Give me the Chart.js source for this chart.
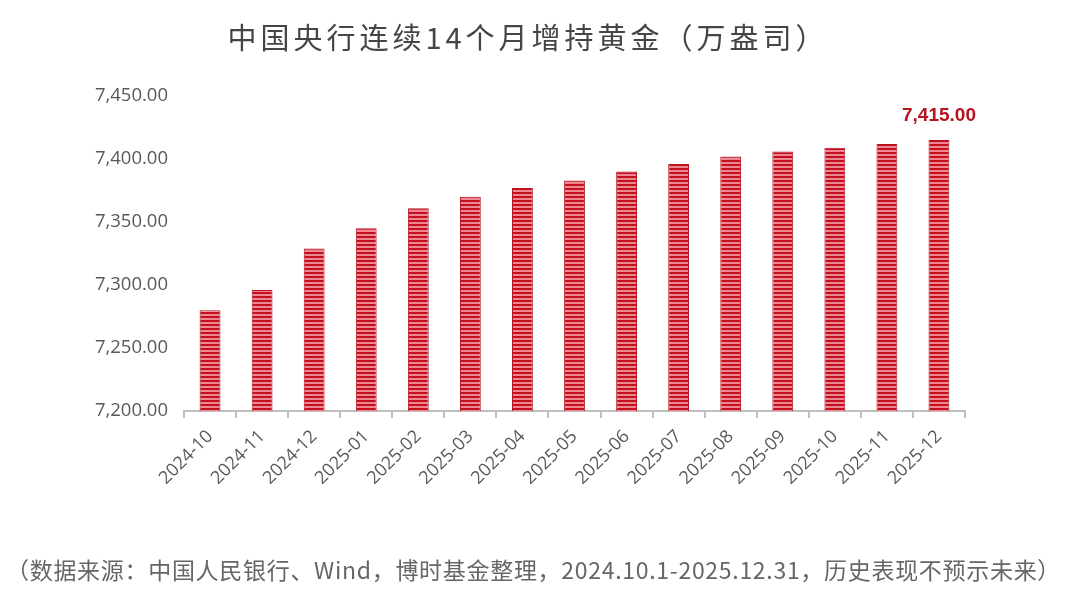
<!DOCTYPE html>
<html>
<head>
<meta charset="utf-8">
<script src="https://cdn.jsdelivr.net/npm/chart.js@4"></script>
<style>
  html, body { margin: 0; padding: 0; background: #fff; }
  #wrap { position: relative; width: 1080px; height: 600px; overflow: hidden; }
  #title {
    position: absolute; left: 8px; top: 16px; width: 1040px; text-align: center;
    font-family: "Noto Sans CJK SC", sans-serif; font-size: 29px; letter-spacing: 4px;
    color: #454545; line-height: 40px;
  }
  #note {
    position: absolute; left: 6px; top: 553px; white-space: nowrap;
    font-family: "Noto Sans CJK SC", sans-serif; font-size: 23px; letter-spacing: 0.7px; color: #666;
    line-height: 32px;
  }
  #chartBox { position: absolute; left: 0; top: 0; width: 1080px; height: 600px; }
</style>
</head>
<body>
<div id="wrap">
  <div id="chartBox"><canvas id="goldChart"></canvas></div>
  <div id="title">中国央行连续14个月增持黄金（万盎司）</div>
  <div id="note">（数据来源：中国人民银行、Wind，博时基金整理，2024.10.1-2025.12.31，历史表现不预示未来）</div>
</div>
<script>
// reserves in 10k oz, monthly
const months = ['2024-10', '2024-11', '2024-12', '2025-01', '2025-02', '2025-03', '2025-04', '2025-05',
  '2025-06', '2025-07', '2025-08', '2025-09', '2025-10', '2025-11', '2025-12'];
const goldReserves = [7280, 7296, 7329, 7345, 7361, 7370, 7377, 7383, 7390, 7396, 7402, 7406, 7409, 7412, 7415];
const yMin = 7200, yMax = 7450, yStep = 50;

const fmt = v => v.toLocaleString('en-US', { minimumFractionDigits: 2, maximumFractionDigits: 2 });

function stripePattern() {
  const c = document.createElement('canvas');
  c.width = 4; c.height = 4;
  const g = c.getContext('2d');
  g.fillStyle = '#ee8791';
  g.fillRect(0, 0, 4, 4);
  g.fillStyle = '#c2101e';
  g.fillRect(0, 0, 4, 2);
  return g.createPattern(c, 'repeat');
}

// value label above the last bar only
const lastLabel = {
  id: 'lastLabel',
  afterDatasetsDraw(chart) {
    const meta = chart.getDatasetMeta(0);
    const i = goldReserves.length - 1;
    const bar = meta.data[i];
    const ctx = chart.ctx;
    ctx.save();
    ctx.font = 'bold 19px "Liberation Sans", sans-serif';
    ctx.fillStyle = '#b5121b';
    ctx.textAlign = 'center';
    ctx.textBaseline = 'bottom';
    ctx.fillText(fmt(goldReserves[i]), bar.x, bar.y - 15);
    ctx.restore();
  }
};

new Chart(document.getElementById('goldChart'), {
  type: 'bar',
  data: {
    labels: months,
    datasets: [{
      data: goldReserves,
      backgroundColor: stripePattern(),
      borderColor: '#b3121e',
      borderWidth: 1,
      borderSkipped: 'bottom',
      barPercentage: 0.8,
      categoryPercentage: 0.5,
    }]
  },
  options: {
    responsive: true,
    maintainAspectRatio: false,
    animation: false,
    layout: { padding: { left: 84, right: 115, top: 96, bottom: 69 } },
    plugins: { legend: { display: false }, tooltip: { enabled: false } },
    scales: {
      x: {
        afterFit: s => { s.height = 120; },
        grid: { display: true, drawOnChartArea: false, drawTicks: true, tickLength: 7, color: '#bfbfbf', lineWidth: 2, offset: true },
        border: { display: true, color: '#bfbfbf', width: 2 },
        ticks: { color: '#595959', font: { family: '"Open Sans", sans-serif', size: 18 }, minRotation: 45, maxRotation: 45, padding: 8 }
      },
      y: {
        min: yMin, max: yMax,
        afterFit: s => { s.width = 100; },
        grid: { display: false },
        border: { display: false },
        ticks: { stepSize: yStep, color: '#595959', padding: 8, font: { family: '"Open Sans", sans-serif', size: 18.5 }, callback: v => fmt(v) }
      }
    }
  },
  plugins: [lastLabel]
});
</script>
</body>
</html>
